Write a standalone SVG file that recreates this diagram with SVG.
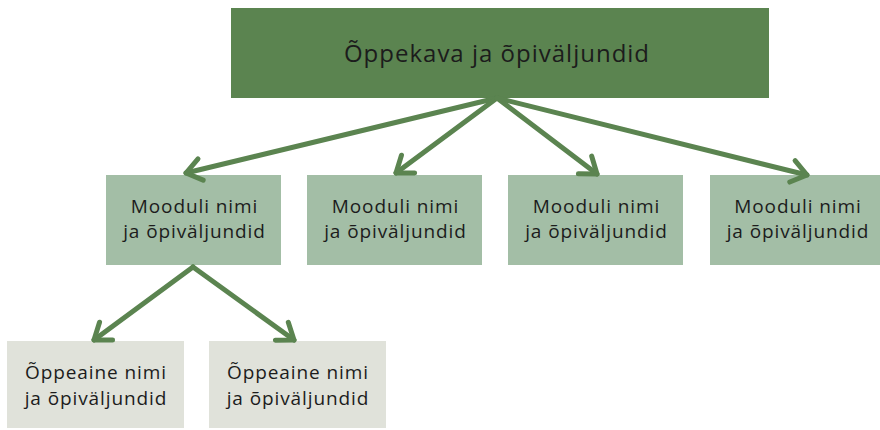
<svg xmlns="http://www.w3.org/2000/svg" width="880" height="430" viewBox="0 0 880 430">
<style>
.top{fill:#5b8450}
.mid{fill:#a3bea6}
.low{fill:#e0e2da}
text{font-family:"Open Sans","Noto Sans",sans-serif;fill:#1c1c1c;text-anchor:middle}
.t1{font-size:24px;letter-spacing:1px}
.t2{font-size:19px;letter-spacing:0.9px}
.conn{stroke:#5b8450;stroke-width:5;stroke-linecap:round;fill:none}
</style>
<defs>
<marker id="ah" markerUnits="userSpaceOnUse" markerWidth="30" markerHeight="30" viewBox="-20 -15 30 30" refX="0" refY="0" orient="auto" overflow="visible">
<path d="M-15,-11 L0,0 L-15,11" fill="none" stroke="#5b8450" stroke-width="5" stroke-linecap="round" stroke-linejoin="round"/>
</marker>
</defs>
<rect width="880" height="430" fill="#ffffff"/>
<g id="n0"><rect class="top" x="231" y="8" width="538" height="90"/><text class="t1" x="497" y="62">Õppekava ja õpiväljundid</text></g>
<g id="n1"><rect class="mid" x="106" y="175" width="175" height="90"/><text class="t2" x="194.5" y="213">Mooduli nimi</text><text class="t2" x="194.5" y="238">ja õpiväljundid</text></g>
<g id="n2"><rect class="mid" x="307" y="175" width="175" height="90"/><text class="t2" x="395.5" y="213">Mooduli nimi</text><text class="t2" x="395.5" y="238">ja õpiväljundid</text></g>
<g id="n3"><rect class="mid" x="508" y="175" width="175" height="90"/><text class="t2" x="596.5" y="213">Mooduli nimi</text><text class="t2" x="596.5" y="238">ja õpiväljundid</text></g>
<g id="n4"><rect class="mid" x="710" y="175" width="175" height="90"/><text class="t2" x="798" y="213">Mooduli nimi</text><text class="t2" x="798" y="238">ja õpiväljundid</text></g>
<g id="n5"><rect class="low" x="7" y="341" width="177" height="87"/><text class="t2" x="96" y="379">Õppeaine nimi</text><text class="t2" x="96" y="405">ja õpiväljundid</text></g>
<g id="n6"><rect class="low" x="209" y="341" width="177" height="87"/><text class="t2" x="298" y="379">Õppeaine nimi</text><text class="t2" x="298" y="405">ja õpiväljundid</text></g>
<g id="connectors">
<line class="conn" x1="497" y1="98" x2="186" y2="173" marker-end="url(#ah)"/>
<line class="conn" x1="497" y1="98" x2="396" y2="173" marker-end="url(#ah)"/>
<line class="conn" x1="497" y1="98" x2="597" y2="174" marker-end="url(#ah)"/>
<line class="conn" x1="497" y1="98" x2="807" y2="175" marker-end="url(#ah)"/>
<line class="conn" x1="193" y1="267" x2="94" y2="340" marker-end="url(#ah)"/>
<line class="conn" x1="193" y1="267" x2="294" y2="340" marker-end="url(#ah)"/>
</g>
</svg>
